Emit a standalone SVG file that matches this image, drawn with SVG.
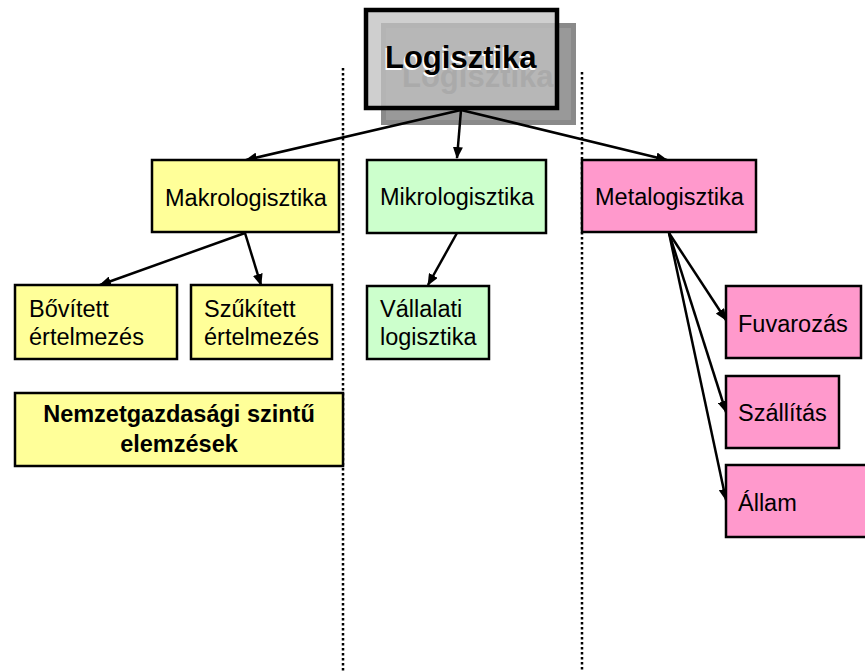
<svg xmlns="http://www.w3.org/2000/svg" width="865" height="672" viewBox="0 0 865 672">
<defs>
<style>
.box{stroke:#000;stroke-width:2.5}
.y{fill:#ffff99}.g{fill:#ccffcc}.p{fill:#ff99cc}
.t{font-family:"Liberation Sans",Arial,sans-serif;font-size:23.5px;fill:#000}
.b{font-weight:bold}
.c{stroke:#000;stroke-width:2.5;fill:none;marker-end:url(#ah)}
.d{stroke:#000;stroke-width:2.5;stroke-dasharray:2.5 2.5;fill:none}
</style>
<marker id="ah" markerUnits="userSpaceOnUse" markerWidth="12" markerHeight="10" refX="11" refY="5" orient="auto">
<path d="M0,0 L12,5 L0,10 z" fill="#000"/>
</marker>
</defs>
<rect width="865" height="672" fill="#fff"/>
<g id="separators">
<line class="d" x1="343" y1="68" x2="343" y2="672"/>
<line class="d" x1="582" y1="72" x2="582" y2="672"/>
</g>
<g id="logisztika">
<rect x="383.5" y="25.5" width="190" height="97" fill="#999" stroke="#8a8a8a" stroke-width="5"/>
<rect x="366" y="10" width="191" height="98" fill="#c1c1c1" fill-opacity="0.77" stroke="#000" stroke-width="4.5"/>
<text class="t b" x="402" y="87" style="font-size:31px;fill:#aaaaaa">Logisztika</text>
<text class="t b" x="383.5" y="69.5" style="font-size:31px;fill:#fff">Logisztika</text>
<text class="t b" x="385" y="68" style="font-size:31px">Logisztika</text>
</g>
<g id="connectors">
<line class="c" x1="461" y1="110" x2="246" y2="160"/>
<line class="c" x1="461" y1="110" x2="457" y2="158"/>
<line class="c" x1="461" y1="110" x2="667" y2="160"/>
<line class="c" x1="245" y1="233" x2="100" y2="285"/>
<line class="c" x1="245" y1="233" x2="261" y2="285"/>
<line class="c" x1="457" y1="233" x2="428" y2="285"/>
<line class="c" x1="669" y1="233" x2="726" y2="320"/>
<line class="c" x1="669" y1="233" x2="726" y2="412"/>
<line class="c" x1="669" y1="233" x2="726" y2="500"/>
</g>
<g id="makro">
<rect class="box y" x="152" y="160" width="187" height="72"/>
<text class="t" x="165" y="206">Makrologisztika</text>
</g>
<g id="mikro">
<rect class="box g" x="367" y="160" width="179" height="73"/>
<text class="t" x="380" y="205">Mikrologisztika</text>
</g>
<g id="meta">
<rect class="box p" x="582" y="160" width="174" height="72"/>
<text class="t" x="595" y="205">Metalogisztika</text>
</g>
<g id="bovitett">
<rect class="box y" x="15" y="285" width="162" height="74"/>
<text class="t" x="29" y="317">Bővített</text>
<text class="t" x="29" y="345">értelmezés</text>
</g>
<g id="szukitett">
<rect class="box y" x="191" y="285" width="141" height="74"/>
<text class="t" x="204" y="317">Szűkített</text>
<text class="t" x="204" y="345">értelmezés</text>
</g>
<g id="nemzetgazdasagi">
<rect class="box y" x="15" y="393" width="328" height="73"/>
<text class="t b" x="179" y="422" text-anchor="middle">Nemzetgazdasági szintű</text>
<text class="t b" x="179" y="452" text-anchor="middle">elemzések</text>
</g>
<g id="vallalati">
<rect class="box g" x="367" y="286" width="122" height="73"/>
<text class="t" x="380" y="317">Vállalati</text>
<text class="t" x="380" y="345">logisztika</text>
</g>
<g id="fuvarozas">
<rect class="box p" x="726" y="286" width="135" height="72"/>
<text class="t" x="738" y="332">Fuvarozás</text>
</g>
<g id="szallitas">
<rect class="box p" x="726" y="376" width="113" height="72"/>
<text class="t" x="738" y="421">Szállítás</text>
</g>
<g id="allam">
<rect class="box p" x="726" y="465" width="145" height="72"/>
<text class="t" x="738" y="511">Állam</text>
</g>
</svg>
